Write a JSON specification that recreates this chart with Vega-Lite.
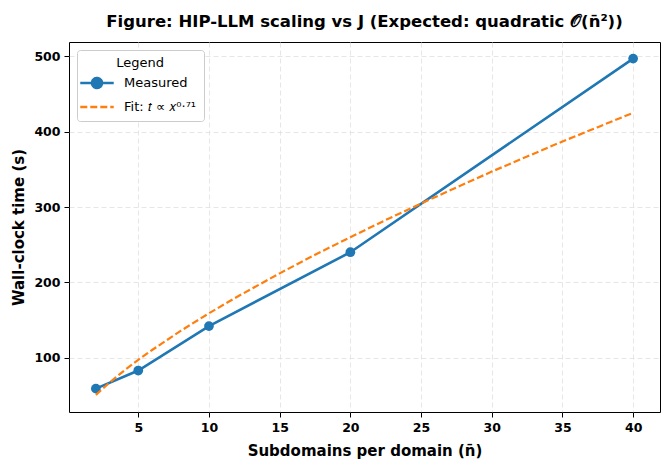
{
  "$schema": "https://vega.github.io/schema/vega-lite/v6.json",
  "width": 591,
  "height": 370,
  "autosize": {"type": "none"},
  "padding": {"left": 69, "top": 42, "right": 10, "bottom": 58},
  "background": "white",
  "config": {
    "font": "DejaVu Sans",
    "view": {"stroke": "black", "strokeWidth": 1},
    "axis": {
      "domain": false,
      "tickColor": "black",
      "tickSize": 5,
      "labelFont": "DejaVu Sans",
      "labelFontSize": 12.5,
      "labelFontWeight": "bold",
      "labelColor": "black",
      "labelPadding": 4,
      "titleFont": "DejaVu Sans",
      "titleFontSize": 15,
      "titleFontWeight": "bold",
      "titleColor": "black",
      "gridColor": "#e0e0e0",
      "gridDash": [5, 3],
      "gridWidth": 0.8
    }
  },
  "title": {
    "text": "Figure: HIP-LLM scaling vs J (Expected: quadratic 𝒪(n̄²))",
    "fontSize": 16.5,
    "fontWeight": "bold",
    "font": "DejaVu Sans",
    "color": "black",
    "anchor": "middle",
    "offset": 12
  },
  "data": {
    "values": [
      {"series": "Measured", "n": 2, "t": 59},
      {"series": "Measured", "n": 5, "t": 83},
      {"series": "Measured", "n": 10, "t": 142},
      {"series": "Measured", "n": 20, "t": 240},
      {"series": "Measured", "n": 40, "t": 497},
      {"series": "Fit: 𝑡 ∝ 𝑥⁰·⁷¹", "n": 2, "t": 50.7},
      {"series": "Fit: 𝑡 ∝ 𝑥⁰·⁷¹", "n": 3, "t": 67.6},
      {"series": "Fit: 𝑡 ∝ 𝑥⁰·⁷¹", "n": 4, "t": 82.9},
      {"series": "Fit: 𝑡 ∝ 𝑥⁰·⁷¹", "n": 5, "t": 97.2},
      {"series": "Fit: 𝑡 ∝ 𝑥⁰·⁷¹", "n": 6, "t": 110.6},
      {"series": "Fit: 𝑡 ∝ 𝑥⁰·⁷¹", "n": 8, "t": 135.7},
      {"series": "Fit: 𝑡 ∝ 𝑥⁰·⁷¹", "n": 10, "t": 159},
      {"series": "Fit: 𝑡 ∝ 𝑥⁰·⁷¹", "n": 12, "t": 181},
      {"series": "Fit: 𝑡 ∝ 𝑥⁰·⁷¹", "n": 15, "t": 212},
      {"series": "Fit: 𝑡 ∝ 𝑥⁰·⁷¹", "n": 17.5, "t": 236.6},
      {"series": "Fit: 𝑡 ∝ 𝑥⁰·⁷¹", "n": 20, "t": 260},
      {"series": "Fit: 𝑡 ∝ 𝑥⁰·⁷¹", "n": 22.5, "t": 282.8},
      {"series": "Fit: 𝑡 ∝ 𝑥⁰·⁷¹", "n": 25, "t": 304.7},
      {"series": "Fit: 𝑡 ∝ 𝑥⁰·⁷¹", "n": 27.5, "t": 326},
      {"series": "Fit: 𝑡 ∝ 𝑥⁰·⁷¹", "n": 30, "t": 347},
      {"series": "Fit: 𝑡 ∝ 𝑥⁰·⁷¹", "n": 32.5, "t": 367},
      {"series": "Fit: 𝑡 ∝ 𝑥⁰·⁷¹", "n": 35, "t": 387},
      {"series": "Fit: 𝑡 ∝ 𝑥⁰·⁷¹", "n": 37.5, "t": 406},
      {"series": "Fit: 𝑡 ∝ 𝑥⁰·⁷¹", "n": 40, "t": 425}
    ]
  },
  "encoding": {
    "x": {
      "field": "n",
      "type": "quantitative",
      "title": "Subdomains per domain (n̄)",
      "scale": {"domain": [0.1, 41.9], "nice": false, "zero": false},
      "axis": {"values": [5, 10, 15, 20, 25, 30, 35, 40], "titlePadding": 10}
    },
    "y": {
      "field": "t",
      "type": "quantitative",
      "title": "Wall-clock time (s)",
      "scale": {"domain": [28, 519], "nice": false, "zero": false},
      "axis": {"values": [100, 200, 300, 400, 500], "titlePadding": 7}
    },
    "color": {
      "field": "series",
      "type": "nominal",
      "scale": {"domain": ["Measured", "Fit: 𝑡 ∝ 𝑥⁰·⁷¹"], "range": ["#1f77b4", "#ff7f0e"]},
      "legend": {
        "title": "Legend",
        "orient": "top-left",
        "offset": 8,
        "padding": 7,
        "fillColor": "white",
        "strokeColor": "#cccccc",
        "cornerRadius": 3,
        "titleFontSize": 13,
        "titleFontWeight": "normal",
        "titleColor": "black",
        "titleAnchor": "middle",
        "titleFont": "DejaVu Sans",
        "titlePadding": 3,
        "labelFontSize": 13,
        "labelFont": "DejaVu Sans",
        "labelColor": "black",
        "labelOffset": 20,
        "rowPadding": 3,
        "symbolSize": 280,
        "symbolStrokeWidth": 2.5,
        "encode": {
          "symbols": {
            "update": {
              "shape": [
                {"test": "datum.value === 'Measured'", "value": "M-2,0H2M-0.6,0A0.6,0.6,0,1,1,0.6,0A0.6,0.6,0,1,1,-0.6,0Z"},
                {"value": "M-2,0H2"}
              ],
              "fill": [
                {"test": "datum.value === 'Measured'", "value": "#1f77b4"},
                {"value": "transparent"}
              ],
              "strokeDash": [
                {"test": "datum.value === 'Measured'", "value": [1, 0]},
                {"value": [7, 3]}
              ],
              "xc": {"value": 13}
            }
          }
        }
      }
    }
  },
  "layer": [
    {
      "transform": [{"filter": "datum.series === 'Measured'"}],
      "mark": {"type": "line", "strokeWidth": 2.6},
      "encoding": {}
    },
    {
      "transform": [{"filter": "datum.series === 'Measured'"}],
      "mark": {"type": "point", "filled": true, "size": 95, "opacity": 1, "shape": "circle"},
      "encoding": {}
    },
    {
      "transform": [{"filter": "datum.series !== 'Measured'"}],
      "mark": {"type": "line", "strokeWidth": 2.2, "strokeDash": [7, 3]},
      "encoding": {}
    }
  ]
}
